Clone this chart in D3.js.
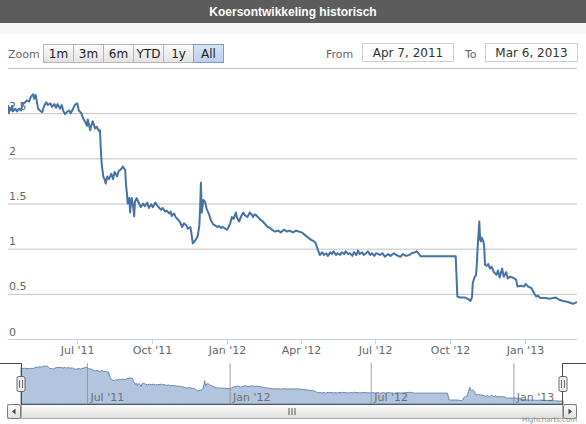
<!DOCTYPE html>
<html>
<head>
<meta charset="utf-8">
<script src="https://cdn.jsdelivr.net/npm/d3@7"></script>
<style>
  body { margin: 0; background: #fff; }
  svg { display: block; font-family: "DejaVu Sans", Verdana, sans-serif; }
</style>
</head>
<body>
<div id="chart"></div>
<script>
// koers per dag
const dates = [
  "2011-04-07","2011-04-08","2011-04-09","2011-04-11","2011-04-12","2011-04-13","2011-04-16","2011-04-18","2011-04-21","2011-04-23",
  "2011-04-25","2011-04-28","2011-04-30","2011-05-03","2011-05-05","2011-05-08","2011-05-09","2011-05-11","2011-05-14","2011-05-16",
  "2011-05-19","2011-05-21","2011-05-24","2011-05-26","2011-05-29","2011-05-31","2011-06-03","2011-06-05","2011-06-07","2011-06-10",
  "2011-06-12","2011-06-14","2011-06-16","2011-06-18","2011-06-21","2011-06-23","2011-06-26","2011-06-28","2011-07-01","2011-07-03",
  "2011-07-06","2011-07-08","2011-07-11","2011-07-13","2011-07-14","2011-07-17","2011-07-18","2011-07-20","2011-07-23","2011-07-25",
  "2011-07-28","2011-07-29","2011-07-30","2011-07-31","2011-08-02","2011-08-04","2011-08-05","2011-08-07","2011-08-09","2011-08-12",
  "2011-08-14","2011-08-16","2011-08-19","2011-08-21","2011-08-24","2011-08-26","2011-08-29","2011-08-30","2011-08-31","2011-09-01",
  "2011-09-03","2011-09-04","2011-09-05","2011-09-06","2011-09-08","2011-09-09","2011-09-10","2011-09-12","2011-09-15","2011-09-17",
  "2011-09-20","2011-09-22","2011-09-25","2011-09-27","2011-09-30","2011-10-02","2011-10-05","2011-10-07","2011-10-10","2011-10-12",
  "2011-10-14","2011-10-17","2011-10-19","2011-10-22","2011-10-24","2011-10-25","2011-10-28","2011-10-30","2011-11-02","2011-11-04",
  "2011-11-07","2011-11-09","2011-11-12","2011-11-14","2011-11-17","2011-11-18","2011-11-20","2011-11-23","2011-11-25","2011-11-26",
  "2011-11-28","2011-11-29","2011-11-30","2011-12-01","2011-12-03","2011-12-05","2011-12-07","2011-12-10","2011-12-12","2011-12-15",
  "2011-12-17","2011-12-20","2011-12-22","2011-12-25","2011-12-27","2011-12-30","2012-01-01","2012-01-03","2012-01-05","2012-01-07",
  "2012-01-09","2012-01-12","2012-01-13","2012-01-16","2012-01-18","2012-01-21","2012-01-23","2012-01-26","2012-01-28","2012-01-29",
  "2012-02-01","2012-02-02","2012-02-04","2012-02-06","2012-02-08","2012-02-11","2012-02-13","2012-02-15","2012-02-18","2012-02-20",
  "2012-02-23","2012-02-25","2012-02-29","2012-03-04","2012-03-07","2012-03-11","2012-03-15","2012-03-18","2012-03-22","2012-03-26",
  "2012-03-29","2012-04-02","2012-04-06","2012-04-10","2012-04-13","2012-04-17","2012-04-19","2012-04-22","2012-04-24","2012-04-27",
  "2012-04-29","2012-05-02","2012-05-04","2012-05-07","2012-05-09","2012-05-11","2012-05-14","2012-05-16","2012-05-19","2012-05-21",
  "2012-05-24","2012-05-26","2012-05-29","2012-05-31","2012-06-03","2012-06-05","2012-06-08","2012-06-10","2012-06-12","2012-06-15",
  "2012-06-17","2012-06-20","2012-06-22","2012-06-25","2012-06-27","2012-06-30","2012-07-02","2012-07-05","2012-07-07","2012-07-10",
  "2012-07-13","2012-07-17","2012-07-20","2012-07-24","2012-07-27","2012-08-01","2012-08-04","2012-08-08","2012-08-12","2012-08-15",
  "2012-08-19","2012-08-21","2012-08-24","2012-08-26","2012-10-08","2012-10-10","2012-10-13","2012-10-19","2012-10-23","2012-10-26",
  "2012-10-28","2012-10-29","2012-10-31","2012-11-02","2012-11-03","2012-11-04","2012-11-06","2012-11-07","2012-11-08","2012-11-09",
  "2012-11-11","2012-11-12","2012-11-13","2012-11-15","2012-11-17","2012-11-19","2012-11-21","2012-11-24","2012-11-27","2012-11-29",
  "2012-12-01","2012-12-04","2012-12-06","2012-12-09","2012-12-11","2012-12-14","2012-12-17","2012-12-21","2012-12-23","2012-12-27",
  "2012-12-31","2013-01-02","2013-01-05","2013-01-09","2013-01-12","2013-01-15","2013-01-17","2013-01-20","2013-01-26","2013-02-01",
  "2013-02-05","2013-02-08","2013-02-12","2013-02-17","2013-02-23","2013-03-01","2013-03-04","2013-03-06"
];
const prices = [
  2.59,2.50,2.56,2.53,2.58,2.52,2.55,2.52,2.55,2.53,
  2.60,2.62,2.64,2.63,2.68,2.71,2.66,2.70,2.55,2.53,
  2.51,2.57,2.62,2.59,2.61,2.57,2.60,2.56,2.60,2.55,
  2.59,2.52,2.49,2.51,2.53,2.50,2.55,2.59,2.61,2.53,
  2.50,2.45,2.40,2.36,2.43,2.31,2.35,2.41,2.33,2.35,
  2.30,2.31,2.10,1.95,1.80,1.76,1.72,1.80,1.77,1.83,
  1.77,1.85,1.80,1.86,1.88,1.91,1.87,1.70,1.62,1.50,
  1.56,1.40,1.50,1.56,1.45,1.36,1.52,1.56,1.50,1.46,
  1.50,1.47,1.51,1.45,1.49,1.46,1.51,1.48,1.45,1.43,
  1.45,1.41,1.42,1.39,1.41,1.36,1.39,1.35,1.32,1.30,
  1.24,1.28,1.26,1.22,1.24,1.19,1.06,1.09,1.12,1.14,
  1.25,1.45,1.73,1.40,1.54,1.52,1.44,1.38,1.32,1.27,
  1.26,1.24,1.25,1.23,1.24,1.22,1.21,1.24,1.28,1.35,
  1.33,1.40,1.35,1.30,1.35,1.40,1.37,1.35,1.38,1.40,
  1.37,1.35,1.38,1.37,1.35,1.32,1.31,1.29,1.26,1.24,
  1.23,1.21,1.19,1.20,1.18,1.21,1.19,1.20,1.18,1.20,
  1.19,1.18,1.15,1.12,1.10,1.08,1.06,0.98,0.93,0.96,
  0.93,0.95,0.92,0.96,0.94,0.97,0.93,0.95,0.93,0.96,
  0.94,0.97,0.94,0.95,0.92,0.96,0.93,0.98,0.94,0.96,
  0.93,0.95,0.97,0.93,0.95,0.92,0.95,0.94,0.93,0.95,
  0.91,0.94,0.92,0.95,0.93,0.91,0.94,0.92,0.93,0.95,
  0.96,0.97,0.94,0.915,0.915,0.47,0.46,0.46,0.445,0.42,
  0.46,0.62,0.68,0.71,0.84,1.02,1.30,1.10,1.08,1.12,
  1.08,1.02,0.82,0.81,0.83,0.78,0.80,0.74,0.71,0.76,
  0.68,0.78,0.69,0.74,0.67,0.69,0.68,0.66,0.58,0.59,
  0.58,0.61,0.58,0.565,0.51,0.47,0.48,0.455,0.455,0.445,
  0.455,0.46,0.435,0.42,0.41,0.39,0.40,0.41
];
const yTicks = [0, 0.5, 1, 1.5, 2, 2.5, 3];
const xTicks = ["2011-07-01","2011-10-01","2012-01-01","2012-04-01","2012-07-01","2012-10-01","2013-01-01"];
const navTicks = ["2011-07-01","2012-01-01","2012-07-01","2013-01-01"];
const zoomButtons = ["1m", "3m", "6m", "YTD", "1y", "All"];
const selectedButton = "All";
const rangeFrom = "Apr 7, 2011";
const rangeTo = "Mar 6, 2013";
const title = "Koersontwikkeling historisch";

const width = 586, height = 424;
const plot = { left: 8, right: 577, top: 68, bottom: 339 };
const nav = { left: 21, right: 563, top: 363, bottom: 404 };

const parse = d3.timeParse("%Y-%m-%d");
const data = dates.map((d, i) => ({ date: parse(d), value: prices[i] }));
const fmt = d3.timeFormat("%b '%y");

const svg = d3.select("#chart").append("svg")
  .attr("width", width).attr("height", height);

const defs = svg.append("defs");
function grad(id, stops) {
  const g = defs.append("linearGradient").attr("id", id)
    .attr("x1", 0).attr("y1", 0).attr("x2", 0).attr("y2", 1);
  stops.forEach((c, i) => g.append("stop").attr("offset", i / (stops.length - 1)).attr("stop-color", c));
}
grad("btn", ["#fbfbfb", "#e2e2e2"]);
grad("btnSel", ["#d7e5f7", "#b8cfec"]);
grad("bar", ["#fdfdfd", "#dedede"]);
defs.append("clipPath").attr("id", "plotClip").append("rect")
  .attr("x", plot.left).attr("y", plot.top - 5)
  .attr("width", plot.right - plot.left).attr("height", plot.bottom - plot.top + 5);

// titelbalk
svg.append("rect").attr("width", width).attr("height", 23).attr("fill", "#5c5c5c");
svg.append("text").attr("x", width / 2).attr("y", 16)
  .attr("text-anchor", "middle").attr("fill", "#fff")
  .style("font-family", "'Liberation Sans', Arial, sans-serif")
  .style("font-weight", "bold").style("font-size", "12px")
  .text(title);
svg.append("rect").attr("y", 23).attr("width", width).attr("height", 11).attr("fill", "#f6f6f6");

// zoom knoppen
svg.append("text").attr("x", 8).attr("y", 58)
  .attr("fill", "#666").style("font-size", "11px").text("Zoom");
const btnW = 30, btnX0 = 43;
const btn = svg.append("g").selectAll("g").data(zoomButtons).join("g")
  .attr("transform", (d, i) => `translate(${btnX0 + i * btnW},44)`);
btn.append("rect")
  .attr("x", 0.5).attr("y", 0.5).attr("width", btnW).attr("height", 18)
  .attr("fill", d => d === selectedButton ? "url(#btnSel)" : "url(#btn)")
  .attr("stroke", d => d === selectedButton ? "#7f9dcb" : "#b5b5b5");
btn.append("text").attr("x", btnW / 2 + 0.5).attr("y", 14)
  .attr("text-anchor", "middle").attr("fill", "#222")
  .style("font-size", "12px").text(d => d);

// datumvelden
svg.append("text").attr("x", 326).attr("y", 58).attr("fill", "#666").style("font-size", "11px").text("From");
svg.append("rect").attr("x", 362.5).attr("y", 43.5).attr("width", 91).attr("height", 18)
  .attr("fill", "#fff").attr("stroke", "#cfcfcf");
svg.append("text").attr("x", 408).attr("y", 57).attr("text-anchor", "middle")
  .attr("fill", "#333").style("font-size", "12px").text(rangeFrom);
svg.append("text").attr("x", 465).attr("y", 58).attr("fill", "#666").style("font-size", "11px").text("To");
svg.append("rect").attr("x", 485.5).attr("y", 43.5).attr("width", 92).attr("height", 18)
  .attr("fill", "#fff").attr("stroke", "#cfcfcf");
svg.append("text").attr("x", 531.5).attr("y", 57).attr("text-anchor", "middle")
  .attr("fill", "#333").style("font-size", "12px").text(rangeTo);

// schalen
const x = d3.scaleTime().domain([parse("2011-04-07"), parse("2013-03-06")]).range([plot.left, plot.right]);
const y = d3.scaleLinear().domain([0, 3]).range([plot.bottom, plot.top]);

// y-as met rasterlijnen
const yAxis = svg.append("g").attr("transform", `translate(${plot.left},0)`)
  .call(d3.axisLeft(y).tickValues(yTicks).tickSize(-(plot.right - plot.left)).tickFormat(d3.format("")));
yAxis.select(".domain").remove();
yAxis.selectAll(".tick line").attr("stroke", d => d === 0 ? "none" : "#c0c0c0");
yAxis.selectAll(".tick text")
  .attr("x", 1).attr("dy", -4).attr("text-anchor", "start")
  .attr("fill", "#666").style("font-size", "11px")
  .style("display", d => d === 3 ? "none" : null);
yAxis.attr("font-family", null);

// x-as
const xAxis = svg.append("g").attr("transform", `translate(0,${plot.bottom})`)
  .call(d3.axisBottom(x).tickValues(xTicks.map(parse)).tickFormat(fmt).tickSize(5).tickSizeOuter(0));
xAxis.attr("font-family", null);
xAxis.select(".domain").attr("stroke", "#c0d0e0");
xAxis.selectAll(".tick line").attr("stroke", "#c0d0e0");
xAxis.selectAll(".tick text").attr("y", 7).attr("fill", "#666").style("font-size", "11px");

// koerslijn
const line = d3.line().x(d => x(d.date)).y(d => y(d.value));
svg.append("path").datum(data)
  .attr("clip-path", "url(#plotClip)")
  .attr("fill", "none").attr("stroke", "#4572a7").attr("stroke-width", 2)
  .attr("stroke-linejoin", "round")
  .attr("d", line);

// navigator
const nx = d3.scaleTime().domain(x.domain()).range([nav.left, nav.right]);
const ny = d3.scaleLinear().domain([0.2, 2.9]).range([nav.bottom, nav.top]);
const navG = svg.append("g");
navG.append("path").datum(data)
  .attr("fill", "#b3c5de").attr("stroke", "#6b88ae").attr("stroke-width", 1)
  .attr("d", d3.area().x(d => nx(d.date)).y0(nav.bottom).y1(d => ny(d.value)));
const navAxis = navG.append("g").attr("transform", `translate(0,${nav.bottom})`)
  .call(d3.axisTop(nx).tickValues(navTicks.map(parse)).tickFormat(fmt)
    .tickSize(nav.bottom - nav.top).tickSizeOuter(0));
navAxis.attr("font-family", null);
navAxis.select(".domain").remove();
navAxis.selectAll(".tick line").attr("stroke", "#8c8c8c").attr("stroke-width", 0.8);
navAxis.selectAll(".tick text")
  .attr("y", -3).attr("dy", 0).attr("x", 3).attr("text-anchor", "start")
  .attr("fill", "#6f6f6f").style("font-size", "11px");

// navigator omlijning en grepen
svg.append("path").attr("fill", "none").attr("stroke", "#444")
  .attr("d", `M0,${nav.top + 0.5}H${nav.left + 0.5}V${nav.bottom}`);
svg.append("path").attr("fill", "none").attr("stroke", "#444")
  .attr("d", `M${width},${nav.top + 0.5}H${nav.right - 0.5}V${nav.bottom}`);
[nav.left, nav.right].forEach(hx => {
  const h = svg.append("g").attr("transform", `translate(${hx},384)`);
  h.append("rect").attr("x", -4).attr("y", -7.5).attr("width", 8).attr("height", 15).attr("rx", 2)
    .attr("fill", "#f2f0f0").attr("stroke", "#666");
  h.append("path").attr("stroke", "#666").attr("d", "M-1.5,-4V4M1.5,-4V4");
});

// schuifbalk
const sb = { y: 404, h: 14, left: 7, right: 577 };
svg.append("rect").attr("x", sb.left + 0.5).attr("y", sb.y + 0.5)
  .attr("width", sb.right - sb.left - 1).attr("height", sb.h)
  .attr("fill", "#eeeeee").attr("stroke", "#bbb");
svg.append("rect").attr("x", nav.left + 0.5).attr("y", sb.y + 0.5)
  .attr("width", nav.right - nav.left - 1).attr("height", sb.h)
  .attr("fill", "url(#bar)").attr("stroke", "#a9a9a9");
const grip = (nav.left + nav.right) / 2;
svg.append("path").attr("stroke", "#555")
  .attr("d", `M${grip - 3},${sb.y + 4}v7M${grip},${sb.y + 4}v7M${grip + 3},${sb.y + 4}v7`);
[[sb.left, nav.left, -1], [nav.right, sb.right, 1]].forEach(([a, b, dir]) => {
  svg.append("rect").attr("x", a + 0.5).attr("y", sb.y + 0.5).attr("width", b - a - 1).attr("height", sb.h)
    .attr("rx", 2).attr("fill", "url(#bar)").attr("stroke", "#777");
  const cx = (a + b) / 2, cy = sb.y + sb.h / 2 + 0.5;
  svg.append("path").attr("fill", "#444")
    .attr("d", `M${cx + 2 * dir},${cy}L${cx - 1.5 * dir},${cy - 3}L${cx - 1.5 * dir},${cy + 3}Z`);
});
svg.append("path").attr("stroke", "#555").attr("d", `M${nav.left},${sb.y + 0.5}H${nav.right}`);

// credits
svg.append("text").attr("x", 577).attr("y", 421.5).attr("text-anchor", "end")
  .attr("fill", "#909090").style("font-size", "7px").text("Highcharts.com");
</script>
</body>
</html>
